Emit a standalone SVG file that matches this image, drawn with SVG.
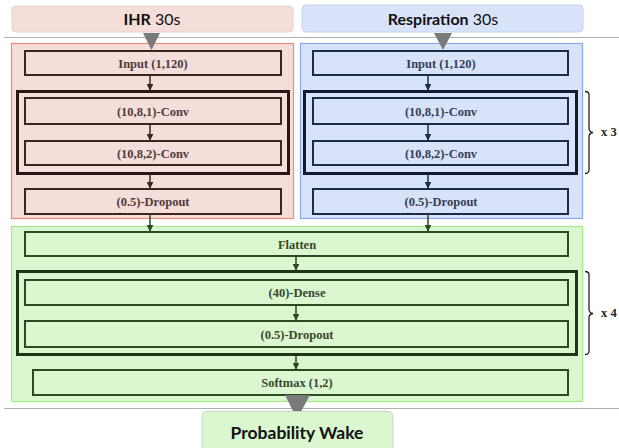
<svg xmlns="http://www.w3.org/2000/svg" width="619" height="448" viewBox="0 0 619 448">
<style>
.hdr{font-family:"Lato","Liberation Sans",sans-serif;font-size:16px;fill:#111;text-anchor:middle}
.lbl{font-family:"Liberation Serif","DejaVu Serif",serif;font-weight:bold;font-size:12.5px;text-anchor:middle}
.r .box{fill:#f5ddd9;stroke:#3f2424;stroke-width:2}
.r .lbl{fill:#4e3c3c}
.b .box{fill:#d8e3f9;stroke:#1f2c48;stroke-width:2}
.b .lbl{fill:#333f58}
.g .box{fill:#dbf7d0;stroke:#2b4a20;stroke-width:2}
.g .lbl{fill:#38482f}
.outer{fill:none;stroke-width:3}
.arr{stroke-width:1.5;fill:none}
.brace{fill:none;stroke:#222;stroke-width:1.3}
.xn{font-family:"Liberation Serif",serif;font-weight:bold;font-size:12.5px;fill:#222}
</style>
<defs>
<marker id="ar" viewBox="0 0 10 10" refX="9" refY="5" markerWidth="4.5" markerHeight="4.5" orient="auto"><path d="M0,0L10,5L0,10z" fill="#3f2424"/></marker>
<marker id="ab" viewBox="0 0 10 10" refX="9" refY="5" markerWidth="4.5" markerHeight="4.5" orient="auto"><path d="M0,0L10,5L0,10z" fill="#1f2c48"/></marker>
<marker id="ag" viewBox="0 0 10 10" refX="9" refY="5" markerWidth="4.5" markerHeight="4.5" orient="auto"><path d="M0,0L10,5L0,10z" fill="#2b4a20"/></marker>
</defs>

<!-- separators -->
<line x1="4" y1="37.5" x2="619" y2="37.5" stroke="#b0b0b0" stroke-width="1"/>
<line x1="4" y1="408.5" x2="619" y2="408.5" stroke="#b0b0b0" stroke-width="1"/>

<!-- headers -->
<g id="hdr-ihr">
<rect x="12" y="6" width="281" height="26" rx="4" fill="#f5ddd9" stroke="#e8cfca"/>
<text class="hdr" x="152" y="25"><tspan font-weight="bold">IHR</tspan> 30s</text>
</g>
<g id="hdr-resp">
<rect x="302" y="5" width="281" height="27" rx="4" fill="#d8e3f9" stroke="#c6d3ee"/>
<text class="hdr" x="443" y="25"><tspan font-weight="bold">Respiration</tspan> 30s</text>
</g>

<!-- panels -->
<g id="panel-ihr" class="r">
<rect x="11.5" y="43.5" width="282" height="175" fill="#f5ddd9" stroke="#ee8a78" stroke-width="1.2"/>
</g>
<g id="panel-resp" class="b">
<rect x="300.5" y="43.5" width="282" height="175" fill="#d8e3f9" stroke="#85a8f0" stroke-width="1.2"/>
</g>
<g id="panel-merge" class="g">
<rect x="11.5" y="226.5" width="571" height="175" fill="#dbf7d0" stroke="#a6ea86" stroke-width="1.2"/>
</g>

<!-- input triangles -->
<polygon points="143,33 160,33 151.5,50" fill="#7a7a7a"/>
<polygon points="434,33 452,33 443,50" fill="#7a7a7a"/>

<!-- IHR branch -->
<g id="ihr-input" class="r"><rect class="box" x="25" y="51" width="256" height="24"/><text class="lbl" x="153" y="67.5">Input (1,120)</text></g>
<g id="ihr-block" class="r"><rect class="outer" x="17.5" y="91.5" width="271" height="82" stroke="#2a1414"/></g>
<g id="ihr-conv1" class="r"><rect class="box" x="25" y="98" width="256" height="26"/><text class="lbl" x="153" y="115.5">(10,8,1)-Conv</text></g>
<g id="ihr-conv2" class="r"><rect class="box" x="25" y="141" width="256" height="24"/><text class="lbl" x="153" y="157.5">(10,8,2)-Conv</text></g>
<g id="ihr-drop" class="r"><rect class="box" x="25" y="189" width="256" height="25"/><text class="lbl" x="153" y="206">(0.5)-Dropout</text></g>

<!-- Resp branch -->
<g id="resp-input" class="b"><rect class="box" x="313" y="51" width="255" height="24"/><text class="lbl" x="441" y="67.5">Input (1,120)</text></g>
<g id="resp-block" class="b"><rect class="outer" x="304.5" y="91.5" width="272" height="82" stroke="#101a30"/></g>
<g id="resp-conv1" class="b"><rect class="box" x="313" y="98" width="255" height="26"/><text class="lbl" x="441" y="115.5">(10,8,1)-Conv</text></g>
<g id="resp-conv2" class="b"><rect class="box" x="313" y="141" width="255" height="24"/><text class="lbl" x="441" y="157.5">(10,8,2)-Conv</text></g>
<g id="resp-drop" class="b"><rect class="box" x="313" y="189" width="255" height="25"/><text class="lbl" x="441" y="206">(0.5)-Dropout</text></g>

<!-- merged -->
<g id="flatten" class="g"><rect class="box" x="25" y="232" width="543" height="24"/><text class="lbl" x="297" y="248.5">Flatten</text></g>
<g id="dense-block" class="g"><rect class="outer" x="17.5" y="271.5" width="559" height="83" stroke="#1e3516"/></g>
<g id="dense" class="g"><rect class="box" x="25" y="280" width="543" height="25"/><text class="lbl" x="297" y="297">(40)-Dense</text></g>
<g id="dense-drop" class="g"><rect class="box" x="25" y="321" width="543" height="26"/><text class="lbl" x="297" y="338.5">(0.5)-Dropout</text></g>
<g id="softmax" class="g"><rect class="box" x="33" y="370" width="535" height="25"/><text class="lbl" x="297" y="387">Softmax (1,2)</text></g>

<!-- output -->
<polygon points="285,395 310,395 297,419" fill="#7a7a7a"/>
<g id="output">
<rect x="202" y="411.5" width="191" height="42" rx="5" fill="#dbf7d0" stroke="#c3d9bb"/>
<text class="hdr" x="297" y="438.5" style="font-weight:bold;font-size:17.5px">Probability Wake</text>
</g>

<!-- connectors -->
<g id="connectors">
<line class="arr" x1="150" y1="75" x2="150" y2="90" stroke="#3f2424" marker-end="url(#ar)"/>
<line class="arr" x1="150" y1="124" x2="150" y2="140" stroke="#3f2424" marker-end="url(#ar)"/>
<line class="arr" x1="150" y1="174" x2="150" y2="188" stroke="#3f2424" marker-end="url(#ar)"/>
<line class="arr" x1="150" y1="214" x2="150" y2="231" stroke="#2b4a20" marker-end="url(#ag)"/>
<line class="arr" x1="428" y1="75" x2="428" y2="90" stroke="#1f2c48" marker-end="url(#ab)"/>
<line class="arr" x1="428" y1="124" x2="428" y2="140" stroke="#1f2c48" marker-end="url(#ab)"/>
<line class="arr" x1="428" y1="174" x2="428" y2="188" stroke="#1f2c48" marker-end="url(#ab)"/>
<line class="arr" x1="428" y1="214" x2="428" y2="231" stroke="#2b4a20" marker-end="url(#ag)"/>
<line class="arr" x1="296" y1="256" x2="296" y2="270" stroke="#2b4a20" marker-end="url(#ag)"/>
<line class="arr" x1="296" y1="305" x2="296" y2="320" stroke="#2b4a20" marker-end="url(#ag)"/>
<line class="arr" x1="296" y1="355" x2="296" y2="369" stroke="#2b4a20" marker-end="url(#ag)"/>
</g>

<!-- braces -->
<g id="brace-x3">
<path class="brace" d="M585,91.5 Q589,91.5 589,95 L589,128 Q589,132 593,132.5 Q589,133 589,137 L589,170 Q589,173.5 585,173.5"/>
<text class="xn" x="601" y="136">x 3</text>
</g>
<g id="brace-x4">
<path class="brace" d="M585,271.5 Q589,271.5 589,275 L589,309 Q589,313 593,313.5 Q589,314 589,318 L589,351 Q589,354.5 585,354.5"/>
<text class="xn" x="601" y="317">x 4</text>
</g>
</svg>
